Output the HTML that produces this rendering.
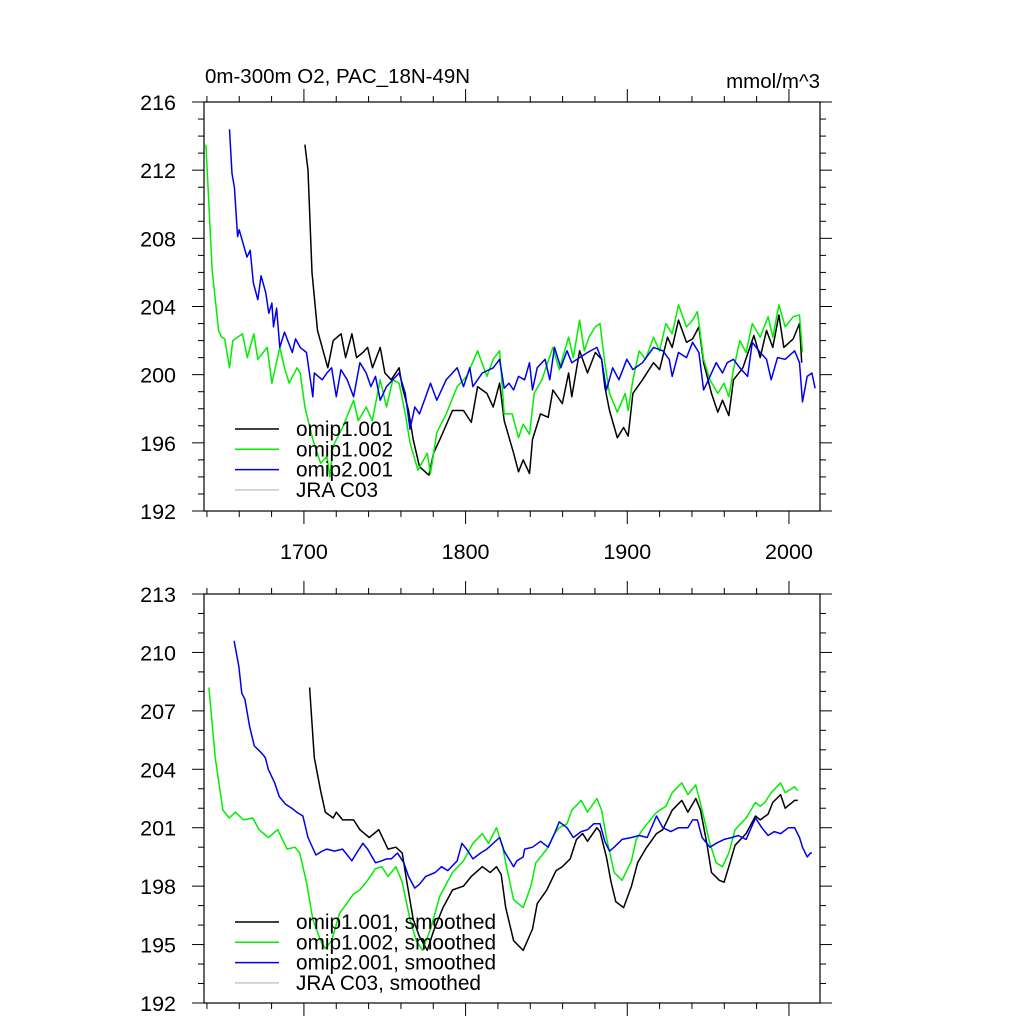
<!DOCTYPE html>
<html><head><meta charset="utf-8"><style>
html,body{margin:0;padding:0;background:#fff;}
svg{display:block;font-family:"Liberation Sans",sans-serif;}
</style></head><body>
<svg id="chart" width="1024" height="1024" viewBox="0 0 1024 1024" xmlns="http://www.w3.org/2000/svg">
<rect width="1024" height="1024" fill="#fff"/>
<text x="205" y="83" font-size="20.5">0m-300m O2, PAC_18N-49N</text>
<text x="820" y="88" font-size="20.5" text-anchor="end">mmol/m^3</text>
<g id="top"></g>
<g id="bot"></g>
</svg>
<script>
// ---- data: top panel (annual) ----
const topBlackYears=[1700.6,1702.5,1705,1708.4,1714.8,1718.1,1723,1725.8,1729.7,1732.6,1736.5,1739.4,1742.4,1747.2,1750.1,1754,1758.9,1760.8,1764.7,1767.6,1771.5,1777.3,1780.2,1784.1,1791.9,1798.7,1803.5,1807.4,1813.2,1817.1,1821,1823.9,1829.7,1832.7,1835.6,1839.5,1841.4,1846.3,1851.1,1854,1859.8,1863.7,1865.7,1870.5,1875.4,1880.2,1884.1,1886.1,1889,1893.8,1897.7,1900.6,1903.5,1909.4,1916.2,1920,1924.9,1927.8,1931.7,1936.6,1940.4,1944.3,1947.2,1952.1,1956,1958.9,1962.8,1965.7,1971.5,1978.3,1982.2,1986.1,1990,1993.8,1996.8,2002.6,2006.5,2007.9];
const topBlackVals=[213.5,212,206.0,202.6,200.4,202.0,202.4,201,202.4,201,201.3,201.6,200.4,201.6,200.1,199.7,200.4,199.3,197.9,196.2,194.6,194.1,195.4,196.2,197.9,197.9,197.2,199.3,198.9,198.1,199.5,197.3,195.4,194.3,195.0,194.2,196.2,197.7,197.5,199.1,198.3,200.1,198.7,201.4,200.1,201.3,200.9,199.3,197.9,196.3,196.9,196.4,198.9,199.7,200.7,200.3,202.2,201.6,203.2,201.9,202.1,202.8,200.7,198.9,197.8,198.5,197.6,199.7,200.4,202.3,201.0,202.6,201.6,203.5,201.6,202.1,203.0,200.7];
const topGreenYears=[1639.4,1643.3,1647.2,1649.1,1651,1654,1656,1662,1665,1669,1671.5,1677.3,1680.2,1685.1,1688,1690.9,1695.7,1697.7,1700.6,1705.5,1710.3,1714.2,1716.1,1718,1723.9,1730.7,1733.6,1738.5,1742.3,1747.2,1751.1,1755,1758.9,1762.7,1765.6,1770.5,1776.3,1778.3,1782.2,1788,1794.8,1800.6,1807.4,1813.2,1817.1,1821,1823.9,1828.8,1832.7,1835.6,1839.5,1842.4,1847.2,1854,1857.9,1863.7,1866.6,1870.5,1873.4,1876.3,1880.2,1883.1,1886.1,1889,1893.8,1898.7,1900.6,1903.5,1907.4,1911.3,1916.2,1920,1923.9,1927.8,1931.7,1936.6,1940.4,1943.4,1947.2,1951.1,1956,1959.9,1962.8,1965.7,1969.6,1973.5,1977.3,1982.2,1987.1,1990,1993.8,1997.7,2002.6,2006.5,2008.4];
const topGreenVals=[213.5,206.1,202.6,202.2,202.1,200.4,202.0,202.4,201.0,202.4,200.9,201.6,199.5,201.6,200.4,199.5,200.4,200.1,198.1,196.2,194.8,195.2,194.0,195.8,196.9,198.5,197.3,198.1,197.3,199.7,198.1,199.7,199.5,197.7,196.0,194.4,195.4,194.2,196.6,197.7,199.3,199.9,201.4,199.9,200.9,201.4,197.7,197.7,196.3,197.1,196.5,198.9,199.7,201.6,200.3,202.2,201.0,203.2,201.4,202.2,202.8,203.0,200.7,198.9,197.8,198.9,197.9,199.7,201.4,200.9,202.2,201.4,203.0,202.4,204.1,202.8,203.2,203.7,200.9,199.7,198.9,199.5,198.7,200.3,202.0,201.3,203.0,202.2,203.4,202.2,204.1,202.8,203.4,203.5,201.3];
const topBlueYears=[1654,1655.5,1657,1659,1660,1664.8,1666.8,1668.7,1671.5,1673.5,1676.4,1678.3,1680.2,1681.2,1683.1,1685.1,1688,1692.8,1694.8,1697.7,1701.6,1705.5,1706.4,1711.3,1714.2,1717.1,1720,1722.9,1726.8,1730.7,1734.6,1738.5,1741.4,1744.3,1747.2,1751.1,1755,1758.9,1762.7,1765.6,1768.6,1771.5,1778.3,1782.2,1788,1794.8,1798.7,1802.6,1804.5,1810.3,1817.1,1821,1823.9,1826.8,1829.7,1832.7,1836.5,1839.5,1841.4,1844.3,1849.2,1852.1,1855,1858.9,1862.7,1865.7,1870.5,1875.4,1881.2,1884.1,1887.1,1891,1894.8,1899.7,1903.5,1909.4,1916.2,1922,1925.9,1927.8,1931.7,1936.6,1940.4,1944.3,1947.2,1950.2,1955,1958.9,1961.8,1965.7,1969.6,1974.4,1977.3,1982.2,1986.1,1989,1992.9,1997.7,2003.5,2006.5,2008.4,2011.3,2014.2,2016.2];
const topBlueVals=[214.4,211.8,211.0,208.1,208.5,206.9,207.3,205.4,204.4,205.8,204.8,203.6,204.2,202.8,203.9,201.6,202.5,201.3,202.1,201.6,201.3,198.7,200.1,199.7,200.1,200.4,198.7,200.3,199.7,198.7,200.7,200.1,199.3,199.9,198.5,199.3,199.7,200.1,198.9,196.8,198.1,197.7,199.5,198.5,199.7,200.4,199.3,200.4,199.3,200.1,200.4,200.9,199.2,199.5,199.1,199.9,199.7,200.7,199.1,200.4,200.9,199.7,201.6,200.4,201.4,200.7,201.0,201.3,201.6,200.9,199.1,200.4,199.7,200.9,200.3,200.7,201.6,201.4,200.9,199.9,201.3,201.0,201.9,201.3,199.1,199.7,200.7,200.1,200.7,200.9,200.4,199.9,201.9,201.3,200.9,199.7,201.0,200.9,201.4,200.7,198.4,199.9,200.1,199.2];
// ---- data: bottom panel (smoothed) ----
const botBlackYears=[1703.5,1706.4,1710.3,1713.2,1718.1,1720,1723.9,1730.7,1734.6,1740.4,1746.3,1752,1756.9,1760.8,1763.7,1767.6,1771.5,1776.3,1780.2,1786,1791.9,1798.7,1803.5,1810.3,1815.2,1819.1,1822,1824.8,1829.7,1835.6,1841.4,1844.3,1850.2,1856,1859.8,1864.7,1868.6,1872.4,1875.4,1881.2,1883.1,1887.1,1890,1892.9,1897.7,1902.6,1906.4,1911.3,1918.1,1922,1927.8,1933.7,1937.5,1942.4,1945.3,1949.2,1952.1,1956.9,1959.9,1962.8,1966.7,1973.5,1979.3,1982.2,1987.1,1990,1994.8,1997.7,2003.5,2005.5];
const botBlackVals=[208.2,204.6,202.9,201.8,201.5,201.8,201.4,201.4,200.9,200.5,200.9,199.9,200.0,199.7,198.2,196.3,195.4,194.7,195.7,196.9,197.8,198.0,198.5,199.0,198.7,199.0,198.6,196.9,195.2,194.7,195.8,197.1,197.8,198.8,199.0,199.4,200.4,200.7,200.3,201.0,200.8,199.5,198.2,197.2,196.9,198.0,199.2,199.9,200.7,200.9,201.9,202.4,201.8,202.5,201.9,200.2,198.7,198.3,198.2,199.0,200.1,200.7,201.6,201.4,201.7,202.3,202.7,202.0,202.4,202.4];
const botGreenYears=[1641.2,1645.1,1649.9,1653.8,1657.7,1662.6,1668.4,1672.2,1678,1683.8,1689.6,1694.5,1697.4,1701.6,1705.5,1710.3,1713.2,1717.1,1722,1730.7,1734.6,1739.4,1744.3,1748.2,1752,1756.9,1760.8,1765.6,1769.5,1773.4,1778.3,1784.1,1791.9,1798.7,1804.5,1810.3,1814.2,1819.1,1823,1824.8,1829.7,1835.6,1840.4,1843.4,1850.2,1855,1857.9,1862.7,1865.7,1871.5,1875.4,1881.2,1884.1,1887.1,1891.9,1896.8,1902.6,1905.5,1909.4,1917.1,1920,1923.9,1927.8,1933.7,1937.5,1942.4,1946.3,1951.1,1955,1958.9,1962.8,1966.7,1973.5,1979.3,1982.2,1985.1,1989,1994.8,1997.7,2003.5,2005.5];
const botGreenVals=[208.2,204.6,201.9,201.5,201.8,201.4,201.5,200.9,200.5,200.9,199.9,200.0,199.7,198.2,196.3,195.2,194.8,195.2,196.6,197.6,197.8,198.3,198.9,199.0,198.5,199.0,198.2,196.3,195.2,194.7,195.8,197.5,198.7,199.3,200.2,200.7,200.2,201.0,200.0,199.2,197.3,196.9,198.0,199.2,199.9,200.7,201.0,201.2,201.9,202.4,201.8,202.5,201.9,200.5,198.7,198.3,199.3,200.4,200.9,201.7,201.9,202.1,202.8,203.3,202.7,203.2,201.9,200.2,199.2,199.0,199.7,200.9,201.5,202.3,202.1,202.3,202.8,203.3,202.8,203.1,202.9];
const botBlueYears=[1656.8,1659.7,1661.6,1663.5,1666.4,1669.3,1674.2,1676.1,1678,1681.9,1684.8,1688.7,1692.5,1695.5,1699.4,1702.5,1707.4,1711.3,1714.2,1719,1723.9,1729.7,1732.6,1736.5,1739.4,1744.3,1748.2,1751.1,1754,1757.9,1761.8,1764.7,1768.6,1771.5,1775.4,1781.2,1785.1,1789,1794.8,1797.7,1800.6,1804.5,1809.3,1813.2,1817.1,1821,1823.9,1829.7,1831.7,1835.6,1836.5,1841.4,1846.3,1851.1,1855,1857.9,1862.7,1866.6,1871.5,1875.4,1879.3,1883.1,1886.1,1889,1891.9,1896.8,1902.6,1907.4,1912.3,1918.1,1922,1926.9,1931.7,1937.5,1940.4,1943.4,1946.3,1951.1,1955,1959.9,1964.7,1968.6,1973.5,1979.3,1983.2,1987.1,1990.9,1994.8,1999.7,2003.5,2006.5,2008.4,2011.3,2013.3,2014.2];
const botBlueVals=[210.6,209.3,207.9,207.6,206.2,205.2,204.8,204.6,204.0,203.3,202.6,202.2,202.0,201.8,201.6,200.5,199.6,199.8,199.9,199.8,199.9,199.3,199.7,200.2,199.9,199.2,199.3,199.4,199.4,199.7,199.2,198.5,197.9,198.1,198.5,198.7,199.0,198.8,199.3,200.2,199.9,199.4,199.7,199.9,200.2,200.5,199.8,199.0,199.3,199.5,199.9,200.0,200.3,200.0,200.7,201.3,201.0,200.5,200.8,200.9,201.2,201.2,200.3,199.8,200.0,200.4,200.5,200.6,200.5,201.6,201.0,200.8,201.0,201.0,201.4,201.4,200.5,200.0,200.2,200.4,200.5,200.6,200.4,201.5,201.0,200.6,200.8,200.7,201.0,201.0,200.5,200.0,199.5,199.7,199.7];
// ---- axis ticks ----
const xMajorTicks=[1700,1800,1900,2000];
const xMajorLabels=["1700","1800","1900","2000"];
const topYTicks=[192,196,200,204,208,212,216];
const topYLabels=["192","196","200","204","208","212","216"];
const botYTicks=[192,195,198,201,204,207,210,213];
const botYLabels=["192","195","198","201","204","207","210","213"];
const legendTop=["omip1.001","omip1.002","omip2.001","JRA C03"];
const legendBot=["omip1.001, smoothed","omip1.002, smoothed","omip2.001, smoothed","JRA C03, smoothed"];
const seriesColors=["#000000","#00ee00","#0000ee","#c8c8c8"];

const NS="http://www.w3.org/2000/svg";
const L=204,R=820,X0=1638.2,X1=2019.2;
function xs(y){return L+(y-X0)/(X1-X0)*(R-L);}
function mk(tag,attrs,parent){const e=document.createElementNS(NS,tag);for(const k in attrs)e.setAttribute(k,attrs[k]);parent.appendChild(e);return e;}

function panel(g,T,B,ymin,ymax,yTicks,yLabels,minorStep,series,legend,legY,showXLabels){
  const ys=v=>B-(v-ymin)/(ymax-ymin)*(B-T);
  series.forEach((s,i)=>{
    const pts=s[0].map((yr,j)=>xs(yr).toFixed(1)+","+ys(s[1][j]).toFixed(1)).join(" ");
    const pl=mk("polyline",{points:pts,fill:"none",stroke:seriesColors[i],"stroke-width":1.5,"stroke-linejoin":"round"},g);
    
    
  });
  const fr=mk("rect",{x:L,y:T,width:R-L,height:B-T,fill:"none",stroke:"#000","stroke-width":1.2},g);
  
  
  for(let yr=1640;yr<=2019;yr+=20){
    const maj=yr%100===0;const len=maj?13:6;const x=xs(yr);
    mk("line",{x1:x,x2:x,y1:B,y2:B+len,stroke:"#000","stroke-width":1},g);
    mk("line",{x1:x,x2:x,y1:T,y2:T-len,stroke:"#000","stroke-width":1},g);
  }
  if(showXLabels){xMajorTicks.forEach((v,i)=>{
    const t=mk("text",{x:xs(v),y:B+48,"font-size":21.5,"text-anchor":"middle"},g);t.textContent=xMajorLabels[i];
    
    
  });}
  for(let v=ymin;v<=ymax+0.001;v+=minorStep){
    const maj=yTicks.includes(Math.round(v));const len=maj?12:6;const y=ys(v);
    mk("line",{x1:L,x2:L-len,y1:y,y2:y,stroke:"#000","stroke-width":1},g);
    mk("line",{x1:R,x2:R+len,y1:y,y2:y,stroke:"#000","stroke-width":1},g);
  }
  yTicks.forEach((v,i)=>{
    const t=mk("text",{x:176,y:ys(v)+8,"font-size":21.5,"text-anchor":"end"},g);t.textContent=yLabels[i];
    
    
  });
  legend.forEach((lab,i)=>{
    const y=legY+i*20.3;
    const ln=mk("line",{x1:235,x2:279,y1:y,y2:y,stroke:seriesColors[i],"stroke-width":1.5},g);
    
    
    const t=mk("text",{x:296,y:y+7,"font-size":20.8},g);t.textContent=lab;
    
    
  });
}
panel(document.getElementById("top"),102,511,192,216,topYTicks,topYLabels,1,
  [[topBlackYears,topBlackVals],[topGreenYears,topGreenVals],[topBlueYears,topBlueVals]],legendTop,429,true);
panel(document.getElementById("bot"),594,1003,192,213,botYTicks,botYLabels,1,
  [[botBlackYears,botBlackVals],[botGreenYears,botGreenVals],[botBlueYears,botBlueVals]],legendBot,922,false);
</script>
</body></html>
